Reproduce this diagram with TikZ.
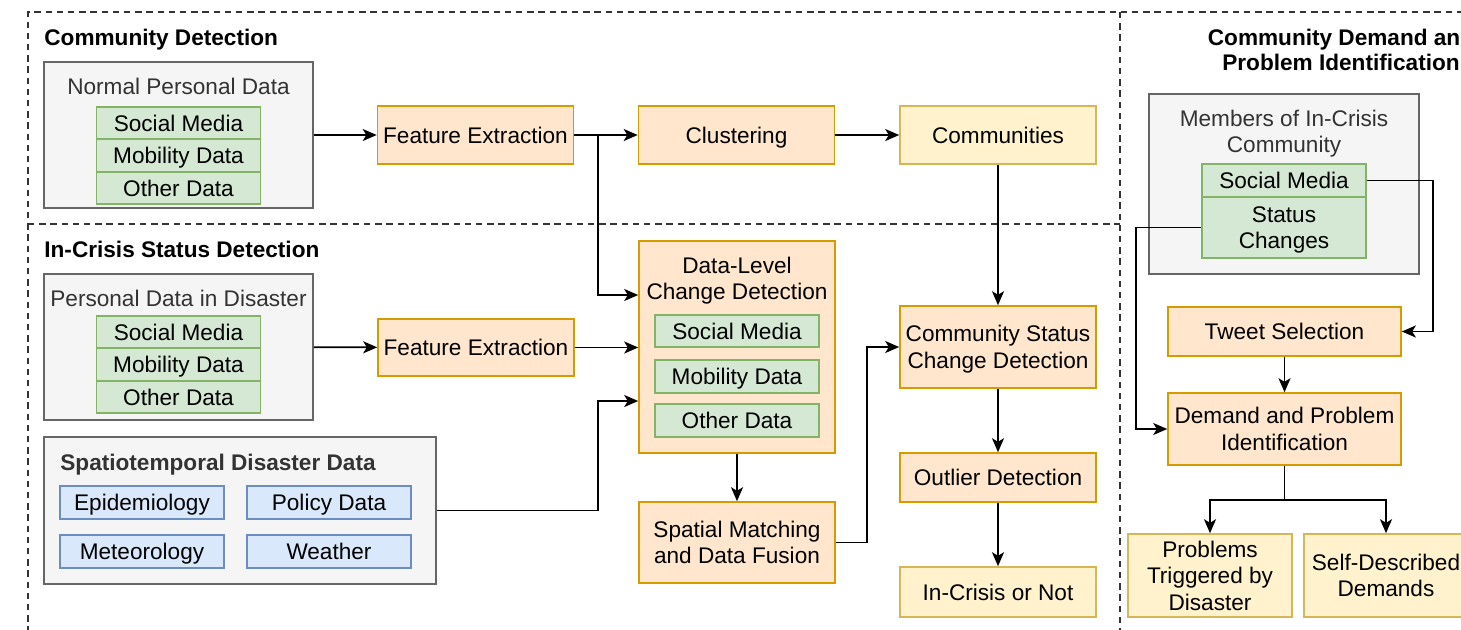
\documentclass[tikz,border=0pt]{standalone}
\usepackage{fontspec}
\setmainfont{Liberation Sans}
\usepackage{xcolor}
\usetikzlibrary{arrows.meta, positioning}

\definecolor{procfill}{HTML}{FFE6CC}
\definecolor{procline}{HTML}{D79B00}
\definecolor{resfill}{HTML}{FFF2CC}
\definecolor{resline}{HTML}{D6B656}
\definecolor{srcfill}{HTML}{D5E8D4}
\definecolor{srcline}{HTML}{82B366}
\definecolor{envfill}{HTML}{DAE8FC}
\definecolor{envline}{HTML}{6C8EBF}
\definecolor{grpfill}{HTML}{F5F5F5}
\definecolor{grpline}{HTML}{666666}
\definecolor{grptext}{HTML}{333333}

% strut that centres the caps of a line in its box
\newcommand{\capstrut}{\rule[-2.5pt]{0pt}{13.1pt}}

\begin{document}
\begin{tikzpicture}[x=0.5pt, y=-0.5pt, font=\fontsize{11.3}{13.2}\selectfont,
    lbl/.style = {inner sep=0pt, align=center,
        execute at begin node=\capstrut, execute at end node=\capstrut},
    base/.style = {lbl, rectangle, line width=0.8pt},
    grp/.style = {base, draw=grpline, fill=grpfill},
    proc/.style = {base, draw=procline, fill=procfill, minimum width=98pt},
    res/.style = {base, draw=resline, fill=resfill},
    src/.style = {base, draw=srcline, fill=srcfill, minimum width=82pt},
    env/.style = {base, draw=envline, fill=envfill, minimum width=82pt, minimum height=16.5pt},
    grptitle/.style = {lbl, text=grptext},
    sectitle/.style = {lbl, font=\fontsize{11.3}{12.6}\selectfont\bfseries},
    flow/.style = {-{Stealth[length=7pt, width=6pt, inset=1.8pt]}, line width=0.9pt},
    frame/.style = {dash pattern=on 3.2pt off 2.4pt, line width=0.6pt, black!80}]
    \clip (0,0) rectangle (1461,629);

    % dashed section frames
    \draw[frame] (28,700) -- (28,12) -- (1500,12);
    \draw[frame] (28,224) -- (1120,224);
    \draw[frame] (1120,12) -- (1120,700);

    \node[sectitle, anchor=west] (t1) at (44,37) {Community Detection};
    \node[sectitle, anchor=west] (t2) at (44,249) {In-Crisis Status Detection};
    \node[sectitle] (t3) at (1341,49.5) {\capstrut Community Demand and\\Problem Identification};

    % community detection
    \node[grp, minimum width=134.5pt, minimum height=73pt] (npd) at (178.5,135) {};
    \node[grptitle] (npdT) at (178.5,86) {Normal Personal Data};
    \node[src, minimum height=16.25pt] (np1) at (178.5,123) {Social Media};
    \node[src, minimum height=16.25pt] (np2) at (178.5,155.5) {Mobility Data};
    \node[src, minimum height=16.25pt] (np3) at (178.5,188) {Other Data};

    \node[proc, minimum height=29pt] (fe1) at (475.5,135) {Feature Extraction};
    \node[proc, minimum height=29pt] (clu) at (736.5,135) {Clustering};
    \node[res, minimum width=98pt, minimum height=29pt] (com) at (998,135) {Communities};

    % in-crisis status detection
    \node[grp, minimum width=134.5pt, minimum height=73pt] (pdd) at (178.5,347) {};
    \node[grptitle] (pddT) at (178.5,298) {Personal Data in Disaster};
    \node[src, minimum height=16.25pt] (pd1) at (178.5,332) {Social Media};
    \node[src, minimum height=16.25pt] (pd2) at (178.5,364.5) {Mobility Data};
    \node[src, minimum height=16.25pt] (pd3) at (178.5,397) {Other Data};

    \node[grp, minimum width=196pt, minimum height=73.5pt] (std) at (240,510.5) {};
    \node[grptitle, sectitle, anchor=west] (stdT) at (60,462) {Spatiotemporal Disaster Data};
    \node[env] (epi) at (142,502.5) {Epidemiology};
    \node[env] (pol) at (329,502.5) {Policy Data};
    \node[env] (met) at (142,551.5) {Meteorology};
    \node[env] (wea) at (329,551.5) {Weather};

    \node[proc, minimum height=28.5pt] (fe2) at (476,347.5) {Feature Extraction};

    \node[proc, minimum height=106pt] (dlc) at (737,347) {};
    \node[lbl] (dlcT) at (737,278.5) {\capstrut Data-Level\\Change Detection};
    \node[src, minimum height=16pt] (dl1) at (737,331) {Social Media};
    \node[src, minimum height=16.5pt] (dl2) at (737,376.5) {Mobility Data};
    \node[src, minimum height=16.5pt] (dl3) at (737,420.5) {Other Data};

    \node[proc, minimum height=40.5pt] (fus) at (737,542.5) {\capstrut Spatial Matching\\and Data Fusion};
    \node[proc, minimum height=41pt] (csc) at (998,347) {\capstrut Community Status\\Change Detection};
    \node[proc, minimum height=24.5pt] (out) at (998,477.5) {Outlier Detection};
    \node[res, minimum width=98pt, minimum height=25pt] (icn) at (998,592) {In-Crisis or Not};

    % demand and problem identification
    \node[grp, minimum width=135pt, minimum height=90pt] (mem) at (1284,184) {};
    \node[grptitle] (memT) at (1284,131.5) {\capstrut Members of In-Crisis\\Community};
    \node[src, minimum height=16.5pt] (msm) at (1284,180.5) {Social Media};
    \node[src, minimum height=30.5pt] (msc) at (1284,227.5) {\capstrut Status\\Changes};

    \node[proc, minimum width=116.5pt, minimum height=24.5pt] (tws) at (1284.5,331.5) {Tweet Selection};
    \node[proc, minimum width=116.5pt, minimum height=36pt] (dpi) at (1284.5,429) {\capstrut Demand and Problem\\Identification};
    \node[res, minimum width=82pt, minimum height=41.5pt] (ptd) at (1210,575.5) {\capstrut Problems\\Triggered by\\Disaster};
    \node[res, minimum width=82pt, minimum height=41.5pt] (sdd) at (1386,575.5) {\capstrut Self-Described\\Demands};

    % connectors
    \draw[flow] (npd) -- (fe1);
    \draw[flow] (fe1) -- (clu);
    \draw[flow] (clu) -- (com);
    \coordinate (br) at (598,135);
    \draw[flow] (br) |- ([yshift=26pt]dlc.west);
    \draw[flow] (pdd) -- (fe2);
    \draw[flow] (fe2.east) -- (fe2.east -| dlc.west);
    \draw[flow] (std.east) -- (598,510.5) |- ([yshift=-27pt]dlc.west);
    \draw[flow] (dlc) -- (fus);
    \draw[flow] (fus.east) -- (867,542.5) |- (csc.west);
    \draw[flow] (com) -- (csc);
    \draw[flow] (csc) -- (out);
    \draw[flow] (out) -- (icn);

    \draw[flow] (msm.east) -- (1433,180.5) |- (tws.east);
    \draw[flow] (msc.west) -- (1136,227.5) |- (dpi.west);
    \draw[flow] (tws) -- (dpi);
    \draw[flow] (dpi.south) -- (1284.5,500) -| (ptd.north);
    \draw[flow] (dpi.south) -- (1284.5,500) -| (sdd.north);
\end{tikzpicture}
\end{document}
